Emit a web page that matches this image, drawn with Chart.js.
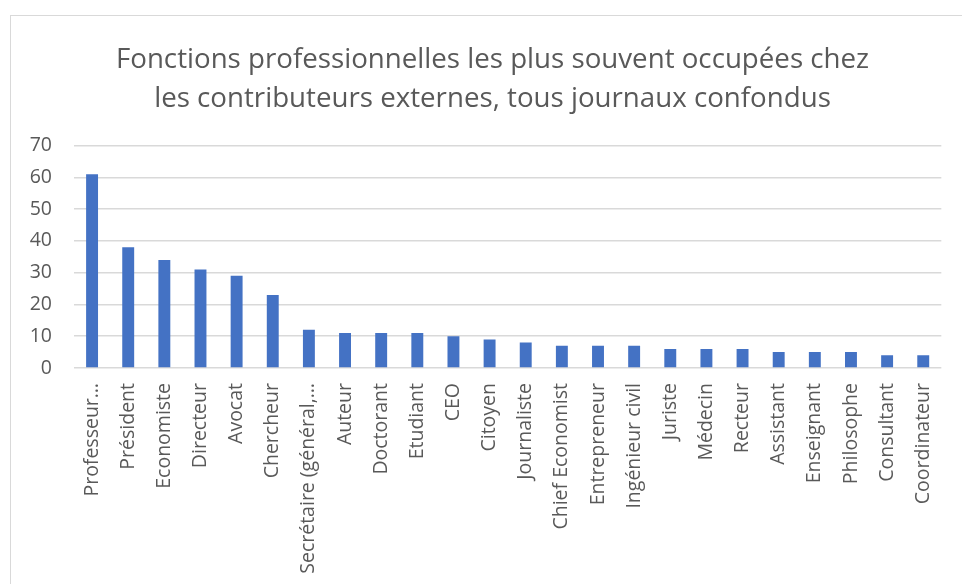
<!DOCTYPE html>
<html>
<head>
<meta charset="utf-8">
<script src="https://cdn.jsdelivr.net/npm/chart.js@4"></script>
<style>
  html, body { margin: 0; padding: 0; background: #ffffff; }
  body { width: 962px; height: 584px; position: relative; overflow: hidden; }
  #frame { position: absolute; left: 10px; top: 15px; width: 980px; height: 620px; border: 1.5px solid #d9d9d9; box-sizing: border-box; }
  #wrap { position: absolute; left: 0; top: 0; width: 962px; height: 584px; }
</style>
</head>
<body>
<div id="frame"></div>
<div id="wrap"><canvas id="c" width="962" height="584"></canvas></div>
<script>
const titleLines = [
  "Fonctions professionnelles les plus souvent occupées chez",
  "les contributeurs externes, tous journaux confondus"
];
const categories = [
  "Professeur…", "Président", "Economiste", "Directeur", "Avocat", "Chercheur",
  "Secrétaire (général,…", "Auteur", "Doctorant", "Etudiant", "CEO", "Citoyen",
  "Journaliste", "Chief Economist", "Entrepreneur", "Ingénieur civil", "Juriste",
  "Médecin", "Recteur", "Assistant", "Enseignant", "Philosophe", "Consultant", "Coordinateur"
];
const values = [61, 38, 34, 31, 29, 23, 12, 11, 11, 11, 10, 9, 8, 7, 7, 7, 6, 6, 6, 5, 5, 5, 4, 4];
const yMin = 0, yMax = 70, yStep = 10;

const textColor = "#595959";
const gridColor = "#d9d9d9";
const barColor = "#4472C4";
const fontFamily = "'Open Sans', 'Noto Sans', sans-serif";

// Shift the title block to be centred on the outer chart frame
const titleShift = {
  id: "titleShift",
  afterLayout(chart) {
    const t = chart.titleBlock;
    if (t) { t.left += 15; t.right += 15; }
  }
};

new Chart(document.getElementById("c"), {
  type: "bar",
  data: {
    labels: categories,
    datasets: [{
      data: values,
      backgroundColor: barColor,
      borderWidth: 0,
      barPercentage: 0.33,
      categoryPercentage: 1.0
    }]
  },
  plugins: [titleShift],
  options: {
    responsive: false,
    animation: false,
    devicePixelRatio: 1,
    layout: { padding: { left: 10, right: 17, top: 0, bottom: 0 } },
    plugins: {
      legend: { display: false },
      tooltip: { enabled: false },
      title: {
        display: true,
        text: titleLines,
        color: textColor,
        font: { family: fontFamily, size: 27.7, weight: "normal", lineHeight: 1.4 },
        padding: { top: 41, bottom: 27 }
      }
    },
    scales: {
      x: {
        grid: { display: false, drawTicks: false },
        border: { display: false },
        afterFit: (scale) => { scale.height = 216; },
        ticks: {
          color: textColor,
          font: { family: fontFamily, size: 19.5 },
          maxRotation: 90,
          minRotation: 90,
          autoSkip: false,
          padding: 15
        }
      },
      y: {
        min: yMin,
        max: yMax,
        afterFit: (scale) => { scale.width = 64; },
        grid: { color: gridColor, lineWidth: 1.5, drawTicks: false },
        border: { display: false },
        ticks: {
          stepSize: yStep,
          color: textColor,
          font: { family: fontFamily, size: 19.5 },
          padding: 22
        }
      }
    }
  }
});
</script>
</body>
</html>
